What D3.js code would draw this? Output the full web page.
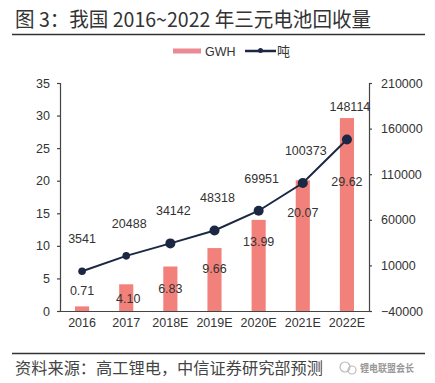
<!DOCTYPE html>
<html><head><meta charset="utf-8">
<script src="https://cdn.jsdelivr.net/npm/d3@7"></script>
<style>body{margin:0;background:#fff}svg{display:block}</style>
</head><body>
<script>
const categories = ["2016","2017","2018E","2019E","2020E","2021E","2022E"];
const gwh = [0.71, 4.10, 6.83, 9.66, 13.99, 20.07, 29.62];
const tons = [3541, 20488, 34142, 48318, 69951, 100373, 148114];
const leftTicks = [0,5,10,15,20,25,30,35];
const rightTicks = [-40000,10000,60000,110000,160000,210000];
const titleText = "图 3：我国 2016~2022 年三元电池回收量";
const sourceText = "资料来源：高工锂电，中信证券研究部预测";
const watermark = "锂电联盟会长";
const legendLabels = ["GWH","吨"];

// label nudges (px) for bar value labels, relative to bar top (style only)
const barLabelDy = [-16, 14, 22, 20, 22, 32, 63];

const W=435,H=383;
const m={l:60,r:66,t:83,b:72};
const svg=d3.select("body").append("svg").attr("width",W).attr("height",H);
const FONT="'Liberation Sans',Arial,sans-serif";
const CJK="'Noto Sans CJK SC','Noto Sans',sans-serif";

const x=d3.scaleBand().domain(categories).range([m.l,W-m.r]).paddingInner(0.68).paddingOuter(0.34);
const yL=d3.scaleLinear().domain([0,35]).range([H-m.b,m.t]);
const yR=d3.scaleLinear().domain([-40000,210000]).range([H-m.b,m.t]);

// title
svg.append("text").attr("x",15).attr("y",27).attr("font-family",CJK).attr("font-size",20)
  .attr("fill","#333").attr("textLength",356).attr("lengthAdjust","spacingAndGlyphs").text(titleText);
svg.append("line").attr("x1",12).attr("x2",425).attr("y1",34.5).attr("y2",34.5).attr("stroke","#333").attr("stroke-width",1.3);

// legend
svg.append("rect").attr("x",173).attr("y",48.5).attr("width",28).attr("height",5).attr("fill","#EA8A94");
svg.append("text").attr("x",205).attr("y",55.5).attr("font-family",FONT).attr("font-size",12.5).attr("fill","#333").text(legendLabels[0]);
svg.append("line").attr("x1",245).attr("x2",276).attr("y1",51).attr("y2",51).attr("stroke","#1c2744").attr("stroke-width",2.5);
svg.append("circle").attr("cx",260.5).attr("cy",50.5).attr("r",2.5).attr("fill","#1c2744");
svg.append("text").attr("x",277).attr("y",56).attr("font-family",CJK).attr("font-size",13).attr("fill","#333").text(legendLabels[1]);

// bars
svg.append("g").selectAll("rect").data(gwh).join("rect")
  .attr("x",(d,i)=>x(categories[i])).attr("width",x.bandwidth())
  .attr("y",d=>yL(d)).attr("height",d=>yL(0)-yL(d))
  .attr("fill","#F2817C");

// axes
const axL=svg.append("g").attr("transform",`translate(${m.l},0)`)
  .call(d3.axisLeft(yL).tickValues(leftTicks).tickSize(3).tickPadding(7));
const axR=svg.append("g").attr("transform",`translate(${W-m.r},0)`)
  .call(d3.axisRight(yR).tickValues(rightTicks).tickFormat(d3.format("d")).tickSize(3).tickPadding(9));
const axB=svg.append("g").attr("transform",`translate(0,${H-m.b})`)
  .call(d3.axisBottom(x).tickSize(0).tickPadding(7));
axB.select(".domain").attr("d",`M${m.l},0.5H${W-m.r}`);
[axL,axR,axB].forEach(a=>{
  a.selectAll("text").attr("font-family",FONT).attr("font-size",12.5).attr("fill","#333");
  a.selectAll(".domain,line").attr("stroke","#444").attr("stroke-width",1.2);
});

// line
const cx=(i)=>x(categories[i])+x.bandwidth()/2;
svg.append("path").datum(tons).attr("fill","none").attr("stroke","#1c2744").attr("stroke-width",2)
  .attr("d",d3.line().x((d,i)=>cx(i)).y(d=>yR(d)));
svg.append("g").selectAll("circle").data(tons).join("circle")
  .attr("cx",(d,i)=>cx(i)).attr("cy",d=>yR(d)).attr("r",(d,i)=>i<2?3.8:5).attr("fill","#1c2744");

// line labels
svg.append("g").selectAll("text").data(tons).join("text")
  .attr("x",(d,i)=>cx(i)+(i===0?0:3)).attr("y",d=>yR(d)-28)
  .attr("text-anchor","middle").attr("font-family",FONT).attr("font-size",12.5).attr("fill","#333")
  .text(d=>d);

// bar labels
svg.append("g").selectAll("text").data(gwh).join("text")
  .attr("x",(d,i)=>cx(i)+(i===1?2:0)).attr("y",(d,i)=>yL(d)+barLabelDy[i]+4.5)
  .attr("text-anchor","middle").attr("font-family",FONT).attr("font-size",12.5).attr("fill","#333")
  .text(d=>d.toFixed(2));

// footer
svg.append("line").attr("x1",12).attr("x2",425).attr("y1",353.5).attr("y2",353.5).attr("stroke","#333").attr("stroke-width",1.3);
svg.append("text").attr("x",15).attr("y",374).attr("font-family",CJK).attr("font-size",16)
  .attr("fill","#444").attr("textLength",308).attr("lengthAdjust","spacingAndGlyphs").text(sourceText);
svg.append("circle").attr("cx",345).attr("cy",367).attr("r",5).attr("fill","none").attr("stroke","#bbb").attr("stroke-width",1.2);
svg.append("circle").attr("cx",352).attr("cy",370).attr("r",4).attr("fill","none").attr("stroke","#bbb").attr("stroke-width",1.2);
svg.append("text").attr("x",360).attr("y",372).attr("font-family",CJK).attr("font-size",10.5).attr("font-weight","bold")
  .attr("fill","#999").attr("textLength",54).attr("lengthAdjust","spacingAndGlyphs").text(watermark);
</script>
</body></html>
